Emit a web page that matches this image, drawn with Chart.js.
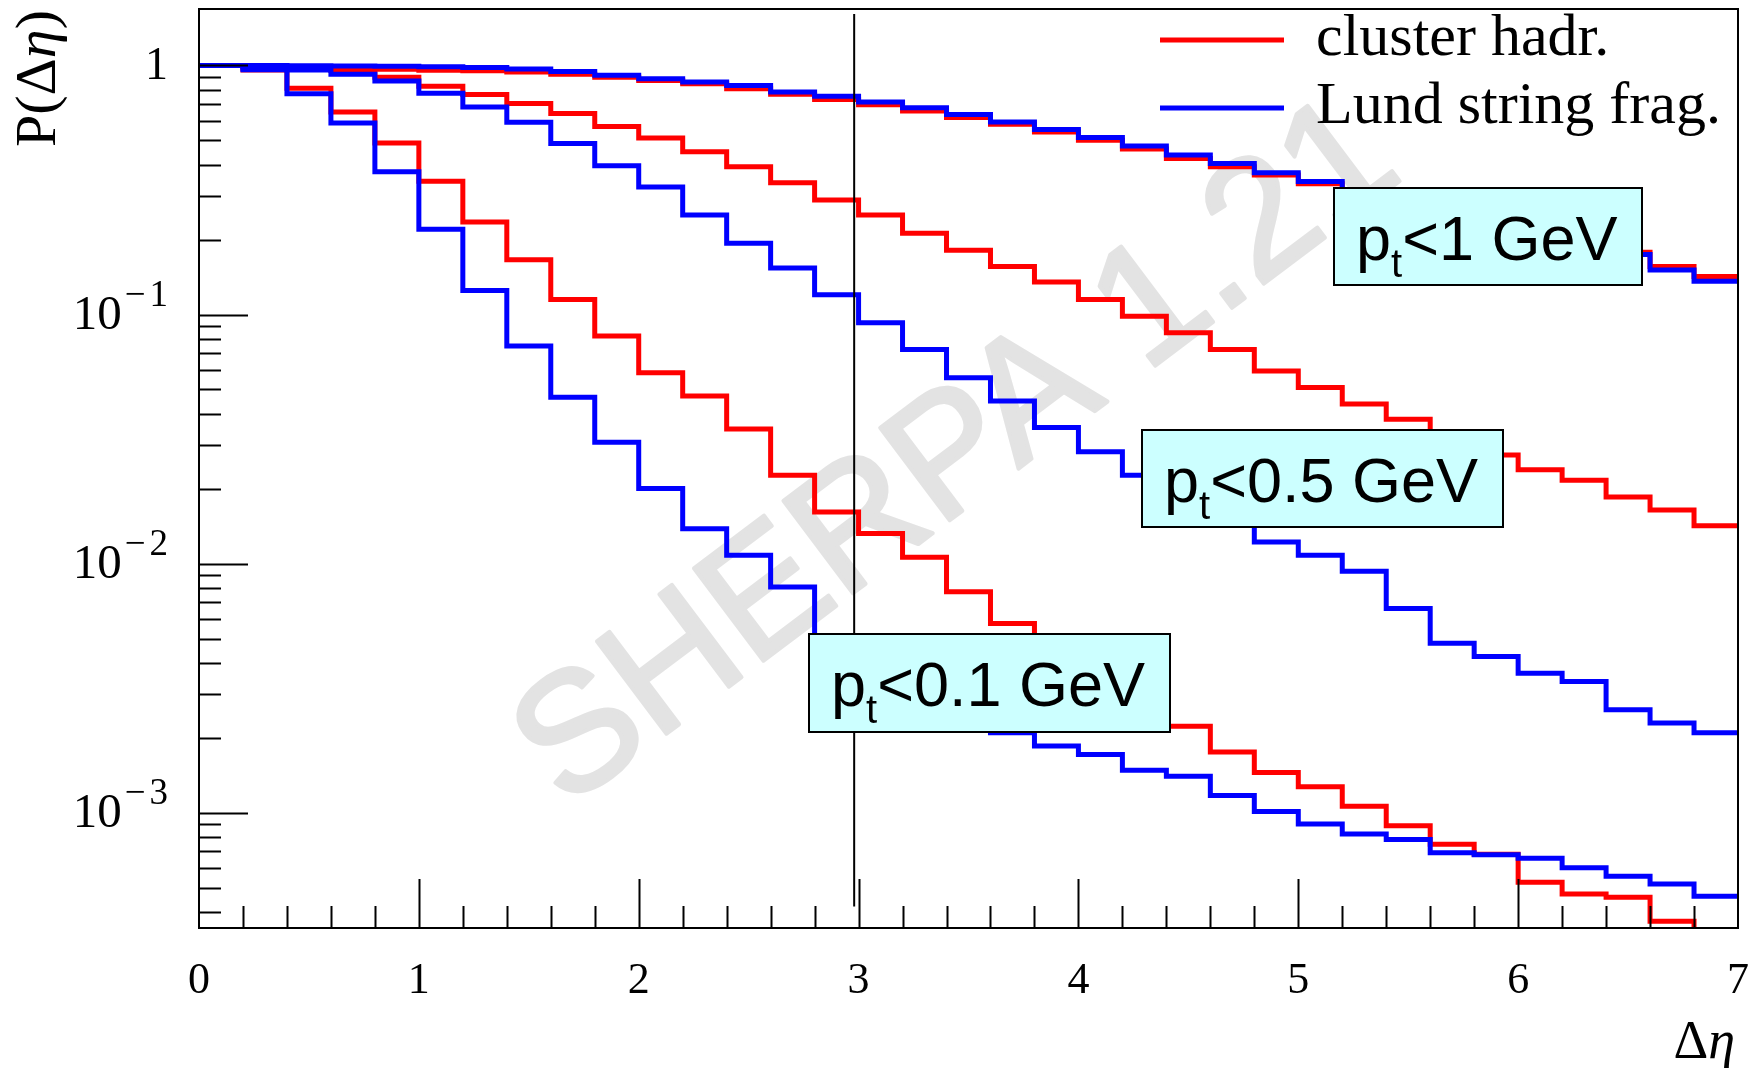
<!DOCTYPE html>
<html>
<head>
<meta charset="utf-8">
<title>P(Δη) – cluster hadronisation vs Lund string fragmentation</title>
<script src="https://cdn.jsdelivr.net/npm/chart.js@4.4.1/dist/chart.umd.min.js"></script>
<style>
  html, body { margin: 0; padding: 0; background: #fff; }
  canvas { display: block; }
</style>
</head>
<body>
<canvas id="etaChart" width="1761" height="1068"></canvas>
<script>
// ===============================
// DATA
// ===============================

// lower edges of the 0.2 wide Δη bins, last entry closes the final bin
const etaEdges = [
  0.0, 0.2, 0.4, 0.6, 0.8, 1.0, 1.2, 1.4, 1.6, 1.8,
  2.0, 2.2, 2.4, 2.6, 2.8, 3.0, 3.2, 3.4, 3.6, 3.8,
  4.0, 4.2, 4.4, 4.6, 4.8, 5.0, 5.2, 5.4, 5.6, 5.8,
  6.0, 6.2, 6.4, 6.6, 6.8, 7.0
];

// P(Δη), pt < 1 GeV
const clusterPt1 = [
  1.0, 0.995, 0.985, 0.975, 0.965, 0.957, 0.952, 0.942, 0.922, 0.898,
  0.871, 0.845, 0.807, 0.766, 0.731, 0.696, 0.657, 0.618, 0.581, 0.541,
  0.501, 0.462, 0.423, 0.392, 0.363, 0.335, 0.306, 0.279, 0.255, 0.232,
  0.212, 0.194, 0.178, 0.156, 0.142
];
const lundPt1 = [
  1.0, 1.0, 0.998, 0.995, 0.992, 0.988, 0.982, 0.968, 0.947, 0.913,
  0.884, 0.858, 0.832, 0.782, 0.752, 0.713, 0.677, 0.635, 0.593, 0.553,
  0.514, 0.475, 0.437, 0.404, 0.371, 0.342, 0.312, 0.285, 0.259, 0.236,
  0.214, 0.193, 0.174, 0.151, 0.136
];

// P(Δη), pt < 0.5 GeV
const clusterPt05 = [
  1.0, 0.99, 0.975, 0.955, 0.898, 0.826, 0.764, 0.703, 0.641, 0.569,
  0.511, 0.450, 0.392, 0.338, 0.288, 0.251, 0.212, 0.181, 0.156, 0.135,
  0.115, 0.0985, 0.0845, 0.0724, 0.0593, 0.0509, 0.0437, 0.038, 0.032, 0.0273,
  0.0238, 0.0216, 0.0185, 0.0164, 0.0142
];
const lundPt05 = [
  1.0, 0.975, 0.96, 0.923, 0.867, 0.773, 0.681, 0.592, 0.486, 0.396,
  0.325, 0.251, 0.1935, 0.1537, 0.120, 0.0926, 0.0724, 0.0557, 0.045, 0.0352,
  0.0281, 0.0226, 0.018, 0.0147, 0.0122, 0.0108, 0.00932, 0.0066, 0.00479, 0.00423,
  0.00363, 0.00336, 0.00259, 0.00229, 0.00209
];

// P(Δη), pt < 0.1 GeV
const clusterPt01 = [
  1.0, 0.96, 0.811, 0.650, 0.488, 0.343, 0.2355, 0.166, 0.115, 0.0819,
  0.0584, 0.0471, 0.0347, 0.0226, 0.0161, 0.0132, 0.0106, 0.0077, 0.00575, 0.0045,
  0.0035, 0.0028, 0.00222, 0.00175, 0.00145, 0.00127, 0.00106, 0.000885, 0.000747, 0.000681,
  0.000525, 0.000471, 0.000457, 0.000366, 0.0002
];
const lundPt01 = [
  1.0, 0.961, 0.770, 0.587, 0.374, 0.220, 0.125, 0.0747, 0.0465, 0.0307,
  0.020, 0.0138, 0.0108, 0.00806, 0.0048, 0.0037, 0.003, 0.0025, 0.00209, 0.00185,
  0.00171, 0.00148, 0.0014, 0.00117, 0.00101, 0.0009, 0.00082, 0.00078, 0.00069, 0.000677,
  0.000655, 0.0006, 0.000555, 0.000517, 0.000461
];

const xTickLabels = ["0", "1", "2", "3", "4", "5", "6", "7"];
const yDecadeExps = [0, -1, -2, -3];
const legendLabels = ["cluster hadr.", "Lund string frag."];
const cutLabels = ["<1 GeV", "<0.5 GeV", "<0.1 GeV"];
const cutMarker = 2.98;
const watermarkText = "SHERPA 1.21";


// ===============================
// STYLE
// ===============================

const RED = "#ff0000";
const BLUE = "#0000ff";
const SERIF = '"Liberation Serif", "DejaVu Serif", serif';
const SANS = '"Liberation Sans", Arial, sans-serif';

const Y_MIN = 3.44e-4;
const Y_MAX = 1.686;

// label boxes, pixel positions on the canvas
const cutBoxes = [
  { x: 1334, y: 188, w: 308, h: 97 },
  { x: 1142, y: 430, w: 361, h: 97 },
  { x: 809,  y: 634, w: 361, h: 98 }
];


// ===============================
// HELPERS
// ===============================

function histPoints(values) {
  // one point per bin edge, the last edge repeats the last bin value
  return etaEdges.map((x, i) => ({ x: x, y: values[Math.min(i, values.length - 1)] }));
}

function histDataset(label, values, color) {
  return {
    label: label,
    data: histPoints(values),
    borderColor: color,
    backgroundColor: color,
    borderWidth: 5,
    stepped: true,
    fill: false,
    pointRadius: 0,
    borderJoinStyle: "miter",
    borderCapStyle: "butt"
  };
}


// ===============================
// DECORATION PLUGIN
// ===============================

const rootStyle = {
  id: "rootStyle",

  beforeDatasetsDraw(chart) {
    const ctx = chart.ctx;
    ctx.save();
    ctx.translate(950, 445);
    ctx.rotate(-37 * Math.PI / 180);
    ctx.font = "168px " + SANS;
    ctx.textAlign = "center";
    ctx.textBaseline = "alphabetic";
    ctx.fillStyle = "#e3e3e3";
    ctx.strokeStyle = "#e3e3e3";
    ctx.lineWidth = 4;
    ctx.lineJoin = "round";
    ctx.fillText(watermarkText, 0, 60);
    ctx.strokeText(watermarkText, 0, 60);
    ctx.restore();
  },

  afterDatasetsDraw(chart) {
    const ctx = chart.ctx;
    const area = chart.chartArea;
    const xs = chart.scales.x;
    const ys = chart.scales.y;

    ctx.save();
    ctx.strokeStyle = "#000";
    ctx.fillStyle = "#000";
    ctx.lineWidth = 2;

    // frame
    ctx.strokeRect(area.left, area.top, area.right - area.left, area.bottom - area.top);

    // x ticks, pointing up from the bottom axis
    ctx.beginPath();
    for (let i = 1; i < 35; i++) {
      const px = Math.round(xs.getPixelForValue(i * 0.2)) + 0.5;
      const len = i % 5 === 0 ? 49 : 22;
      ctx.moveTo(px, area.bottom);
      ctx.lineTo(px, area.bottom - len);
    }
    // y ticks, pointing right from the left axis
    for (let e = -4; e <= 0; e++) {
      for (let k = 1; k <= 9; k++) {
        const v = k * Math.pow(10, e);
        if (v < Y_MIN || v > Y_MAX) continue;
        const py = Math.round(ys.getPixelForValue(v)) + 0.5;
        const len = k === 1 ? 49 : 22;
        ctx.moveTo(area.left, py);
        ctx.lineTo(area.left + len, py);
      }
    }
    ctx.stroke();

    // x tick labels
    ctx.font = "44px " + SERIF;
    ctx.textAlign = "center";
    ctx.textBaseline = "alphabetic";
    xTickLabels.forEach((t, i) => {
      ctx.fillText(t, xs.getPixelForValue(i), 993);
    });

    // y tick labels
    ctx.textAlign = "right";
    yDecadeExps.forEach(e => {
      const py = ys.getPixelForValue(Math.pow(10, e));
      if (e === 0) {
        ctx.font = "46px " + SERIF;
        ctx.fillText("1", 168, py + 14);
        return;
      }
      ctx.font = "37px " + SERIF;
      const digit = String(Math.abs(e));
      const digitW = ctx.measureText(digit).width;
      const minusW = ctx.measureText("\u2212").width;
      ctx.fillText(digit, 168, py - 9);
      ctx.fillText("\u2212", 168 - digitW - 4, py - 9);
      ctx.font = "49px " + SERIF;
      ctx.fillText("10", 168 - digitW - 4 - minusW - 3, py + 14);
    });

    // axis titles
    ctx.save();
    ctx.translate(55, 147);
    ctx.rotate(-Math.PI / 2);
    ctx.textAlign = "left";
    let cx = 0;
    ctx.font = "58px " + SERIF;
    ctx.fillText("P(\u0394", cx, 0);
    cx += ctx.measureText("P(\u0394").width;
    ctx.font = "italic 58px " + SERIF;
    ctx.fillText("\u03b7", cx, 0);
    cx += ctx.measureText("\u03b7").width;
    ctx.font = "58px " + SERIF;
    ctx.fillText(")", cx, 0);
    ctx.restore();

    ctx.textAlign = "right";
    ctx.font = "italic 54px " + SERIF;
    const etaW = ctx.measureText("\u03b7").width;
    ctx.fillText("\u03b7", 1735, 1058);
    ctx.font = "54px " + SERIF;
    ctx.fillText("\u0394", 1735 - etaW, 1058);

    // legend
    ctx.lineWidth = 5;
    [RED, BLUE].forEach((c, i) => {
      const ly = 40 + i * 68;
      ctx.strokeStyle = c;
      ctx.beginPath();
      ctx.moveTo(1160, ly);
      ctx.lineTo(1284, ly);
      ctx.stroke();
    });
    ctx.fillStyle = "#000";
    ctx.textAlign = "left";
    ctx.font = "60px " + SERIF;
    legendLabels.forEach((t, i) => {
      ctx.fillText(t, 1316, 55 + i * 68);
    });

    // cut label boxes
    cutBoxes.forEach((b, i) => {
      ctx.fillStyle = "#ccffff";
      ctx.fillRect(b.x, b.y, b.w, b.h);
      ctx.strokeStyle = "#000";
      ctx.lineWidth = 2;
      ctx.strokeRect(b.x, b.y, b.w, b.h);

      ctx.fillStyle = "#000";
      let tx = b.x + 22;
      const base = b.y + 72;
      ctx.font = "63px " + SANS;
      ctx.fillText("p", tx, base);
      tx += ctx.measureText("p").width;
      ctx.font = "40px " + SANS;
      ctx.fillText("t", tx, base + 17);
      tx += ctx.measureText("t").width;
      ctx.font = "63px " + SANS;
      ctx.fillText(cutLabels[i], tx, base);
    });

    ctx.restore();
  }
};


// ===============================
// CHART
// ===============================

const ctx = document.getElementById("etaChart");

new Chart(ctx, {
  type: "line",
  data: {
    datasets: [
      {
        label: "cut",
        data: [{ x: cutMarker, y: 1.61 }, { x: cutMarker, y: 4.2e-4 }],
        borderColor: "#000",
        borderWidth: 2,
        pointRadius: 0,
        fill: false
      },
      histDataset("Lund pt<0.1", lundPt01, BLUE),
      histDataset("Lund pt<0.5", lundPt05, BLUE),
      histDataset("Lund pt<1", lundPt1, BLUE),
      histDataset("cluster pt<0.1", clusterPt01, RED),
      histDataset("cluster pt<0.5", clusterPt05, RED),
      histDataset("cluster pt<1", clusterPt1, RED)
    ]
  },
  options: {
    responsive: false,
    devicePixelRatio: 1,
    animation: false,
    events: [],
    layout: {
      padding: { left: 199, right: 23, top: 9, bottom: 140 }
    },
    plugins: {
      legend: { display: false },
      tooltip: { enabled: false }
    },
    scales: {
      x: {
        type: "linear",
        min: 0,
        max: 7,
        display: false
      },
      y: {
        type: "logarithmic",
        min: Y_MIN,
        max: Y_MAX,
        bounds: "data",
        display: false
      }
    }
  },
  plugins: [rootStyle]
});
</script>
</body>
</html>
